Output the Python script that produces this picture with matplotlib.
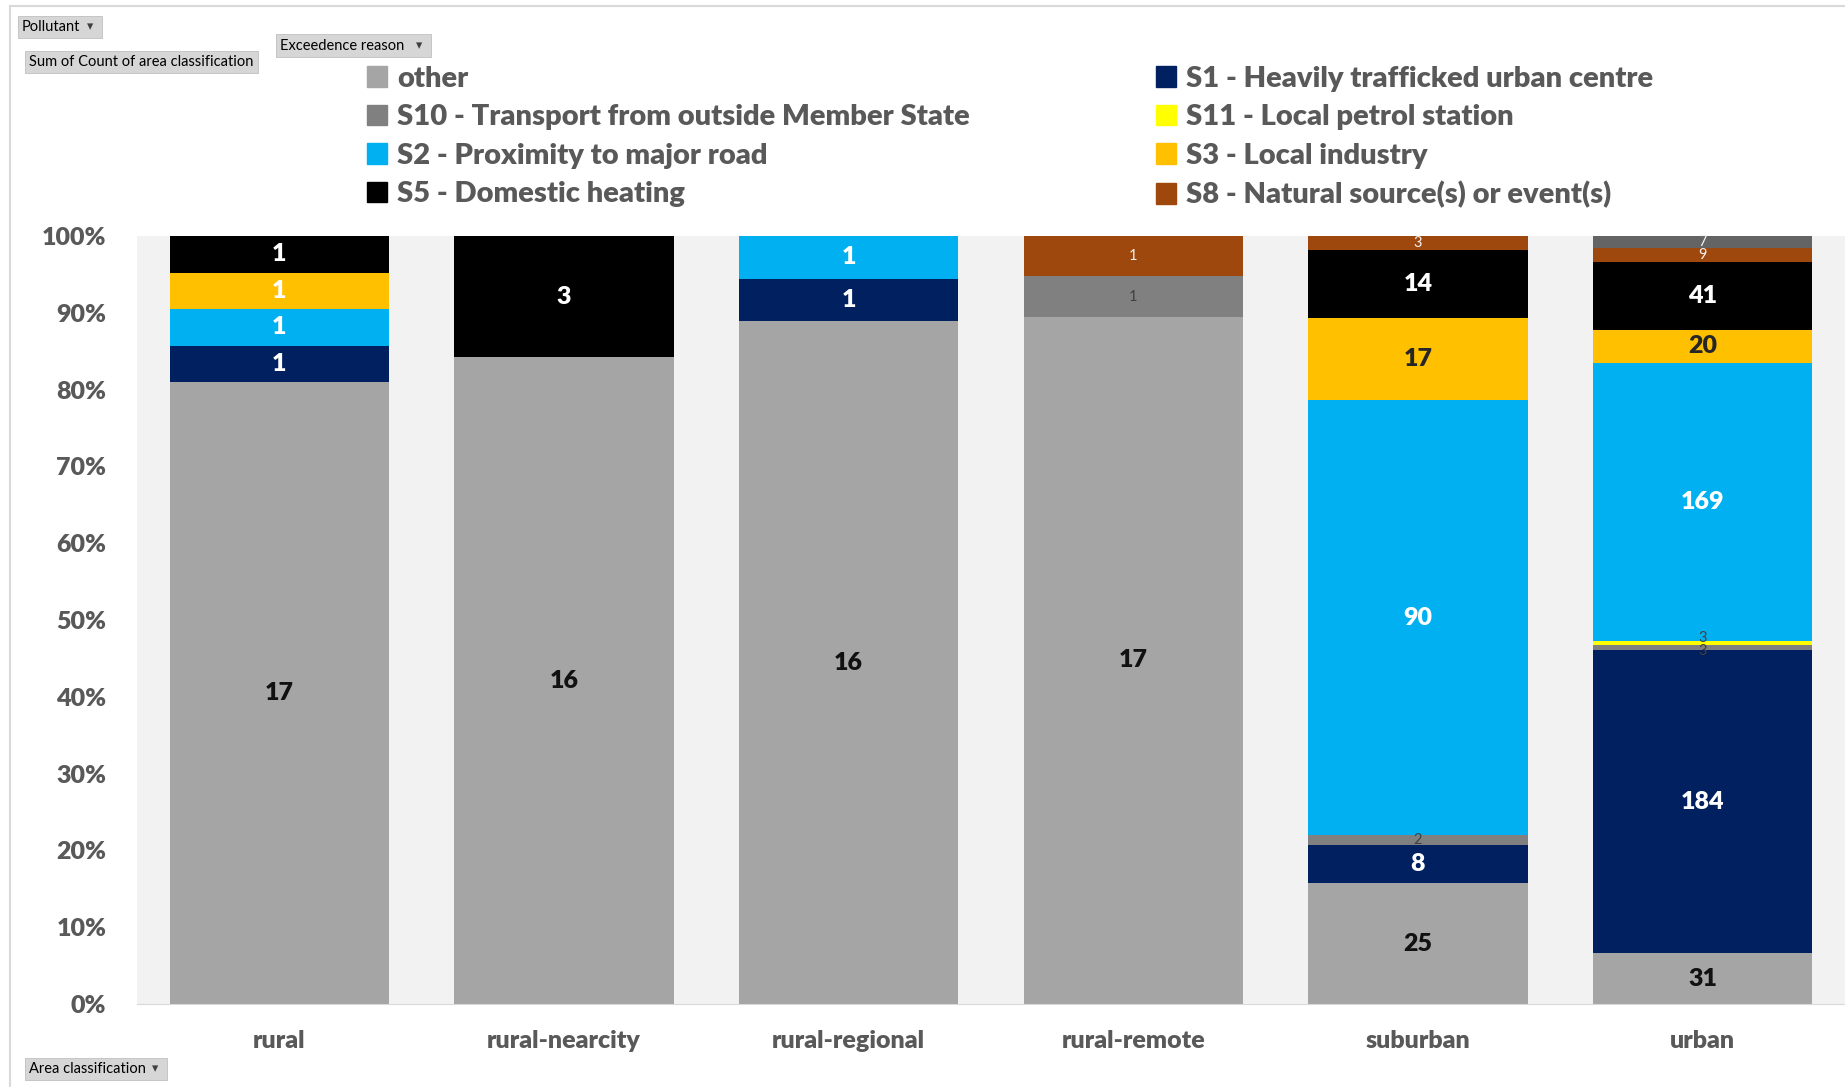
import numpy as np
import matplotlib.pyplot as plt
from matplotlib.patches import Rectangle, Patch

plt.rcParams['font.family'] = ['Lato', 'DejaVu Sans']

# counts per area classification for each exceedence reason
areas = ['rural', 'rural-nearcity', 'rural-regional', 'rural-remote', 'suburban', 'urban']
other = [17, 16, 16, 17, 25, 31]
s1 = [1, 0, 1, 0, 8, 184]
s10 = [0, 0, 0, 1, 2, 3]
s11 = [0, 0, 0, 0, 0, 3]
s2 = [1, 0, 1, 0, 90, 169]
s3 = [1, 0, 0, 0, 17, 20]
s5 = [1, 3, 0, 0, 14, 41]
s8 = [0, 0, 0, 1, 3, 9]
s_rest = [0, 0, 0, 0, 0, 7]

series = [
    ('other', other, '#a5a5a5'),
    ('S1 - Heavily trafficked urban centre', s1, '#002060'),
    ('S10 - Transport from outside Member State', s10, '#808080'),
    ('S11 - Local petrol station', s11, '#ffff00'),
    ('S2 - Proximity to major road', s2, '#00b0f0'),
    ('S3 - Local industry', s3, '#ffc000'),
    ('S5 - Domestic heating', s5, '#000000'),
    ('S8 - Natural source(s) or event(s)', s8, '#9e480e'),
    ('', s_rest, '#646464'),
]
# text colour on each series
txt_col = ['#111111', 'white', '#404040', '#404040', 'white', '#262626', 'white', '#f2f2f2', '#f2f2f2']

counts = np.array([s[1] for s in series], dtype=float)
totals = counts.sum(axis=0)
shares = counts / totals

fig = plt.figure(figsize=(18.45, 10.87), dpi=100)
ax = fig.add_axes([137/1845, 1 - 1004/1087, 1 - 137/1845, (1004 - 236)/1087])
ax.set_facecolor('#f2f2f2')

x = np.arange(len(areas))
bottom = np.zeros(len(areas))
for i, (name, vals, col) in enumerate(series):
    ax.bar(x, shares[i], 0.77, bottom=bottom, color=col, label=name)
    for j in range(len(areas)):
        if counts[i, j] == 0:
            continue
        yc = bottom[j] + shares[i, j] / 2
        small = shares[i, j] < 0.035 or (j == 3 and i > 0)
        tc = txt_col[i]
        if i == 5 and j == 0:
            tc = 'white'
        if small:
            # the two thin slivers in urban sit on top of each other, nudge them apart
            if j == 5 and i == 2:
                yc -= 0.004
            if j == 5 and i == 3:
                yc += 0.006
            ax.text(x[j], yc, '%d' % counts[i, j], ha='center', va='center',
                    fontsize=10.5, color=tc)
        else:
            ax.text(x[j], yc, '%d' % counts[i, j], ha='center', va='center',
                    fontsize=18, fontweight='heavy', color=tc)
    bottom += shares[i]

ax.set_xlim(-0.5, 5.5)
ax.set_ylim(0, 1)
ax.set_yticks(np.arange(0, 1.01, 0.1))
ax.set_yticklabels(['%d%%' % round(v * 100) for v in np.arange(0, 1.01, 0.1)])
ax.set_xticks(x)
ax.set_xticklabels(areas)
ax.tick_params(length=0, labelsize=18, labelcolor='#595959')
ax.tick_params(axis='y', pad=22)
ax.tick_params(axis='x', pad=19)
for lab in ax.get_xticklabels() + ax.get_yticklabels():
    lab.set_fontweight('heavy')
for sp in ['top', 'right', 'left']:
    ax.spines[sp].set_visible(False)
ax.spines['bottom'].set_color('#d9d9d9')

# legend in two columns, read row by row
names = [s[0] for s in series]
cols = [s[2] for s in series]
left_items = [0, 2, 4, 6]
right_items = [1, 3, 5, 7]
for items, xpos in [(left_items, 355/1845), (right_items, 1144/1845)]:
    leg = fig.legend([Patch(color=cols[k]) for k in items], [names[k] for k in items],
                     loc='upper left', bbox_to_anchor=(xpos, 1 - 54/1087), frameon=False,
                     prop={'size': 21, 'weight': 'heavy'}, handlelength=0.7, handleheight=0.7,
                     handletextpad=0.35, labelspacing=0.43, borderaxespad=0)
    for t in leg.get_texts():
        t.set_color('#595959')

# outer frame lines
fig.add_artist(plt.Line2D([10/1845, 10/1845], [0, 1 - 6/1087], color='#d9d9d9', lw=1.5))
fig.add_artist(plt.Line2D([10/1845, 1], [1 - 6/1087, 1 - 6/1087], color='#d9d9d9', lw=1.5))

# pivot field buttons
def button(x0, y0, x1, y1, label, arrow=True):
    fig.add_artist(Rectangle((x0/1845, 1 - y1/1087), (x1 - x0)/1845, (y1 - y0)/1087,
                             facecolor='#d6d6d6', edgecolor='#c0c0c0', lw=0.6))
    fig.text((x0 + 4)/1845, 1 - (y0 + y1)/2/1087, label, fontsize=10.5, color='black',
             va='center', ha='left', family=['Lato', 'DejaVu Sans'])
    if arrow:
        fig.text((x1 - 12)/1845, 1 - (y0 + y1)/2/1087, '\u25be', fontsize=9, color='#404040',
                 va='center', ha='center', family=['DejaVu Sans'])

button(18, 16, 102, 38, 'Pollutant')
button(25, 51, 258, 73, 'Sum of Count of area classification', arrow=False)
button(276, 34, 431, 57, 'Exceedence reason')
button(25, 1058, 167, 1080, 'Area classification')

fig.savefig('out.png', dpi=100)
